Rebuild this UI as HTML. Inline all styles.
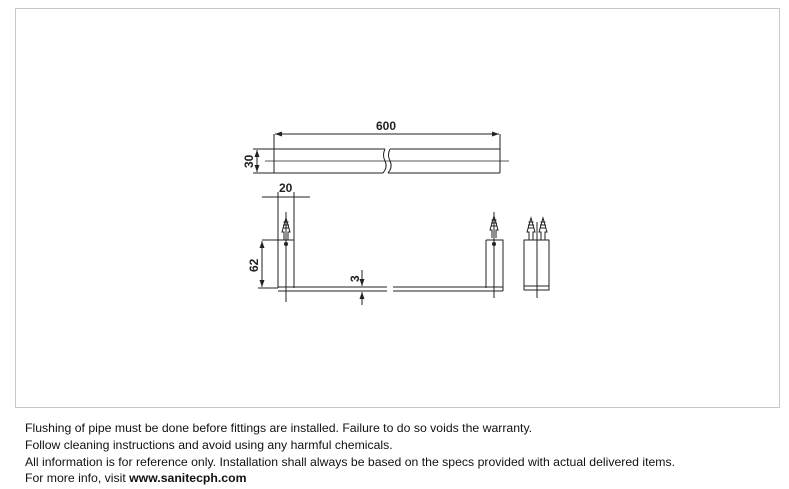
<!DOCTYPE html>
<html><head><style>
body{margin:0;background:#fff;width:789px;height:489px;overflow:hidden;font-family:"Liberation Sans",sans-serif}
.box{position:absolute;left:15px;top:8px;width:763px;height:398px;border:1px solid #c8c8c8}
.t{position:absolute;left:25px;font-size:12.25px;color:#111;line-height:16px;white-space:nowrap}
</style></head><body>
<div class="box"></div>
<svg width="789" height="489" style="position:absolute;left:0;top:0" font-family="Liberation Sans, sans-serif">
<defs>
<marker id="a" markerWidth="7" markerHeight="5" refX="7" refY="2.5" orient="auto-start-reverse" markerUnits="userSpaceOnUse"><path d="M0,0L7,2.5L0,5z" fill="#222"/></marker>
<g id="anc" stroke="#222" stroke-width="1" fill="none">
<path d="M-2,0 L-2,-8 L-4,-8 L0,-22 L4,-8 L2,-8 L2,0"/>
<path d="M-3,-12h6M-3,-15h6M-2.5,-18h5"/>
</g>
</defs>
<g stroke="#222" stroke-width="1" fill="none">
<path d="M274,149H385M390,149H500M274,173H383M388,173H500M274,134V173M500,134V173"/>
<path d="M385,149q-3,6 0,12q3,6 -2,12M390,149q-3,6 0,12q3,6 -2,12"/>
<path d="M265,161H509" stroke-width="0.8"/>
<path d="M275,134H499" marker-start="url(#a)" marker-end="url(#a)"/>
<path d="M253,149H274M253,173H274"/>
<path d="M257,150V172" marker-start="url(#a)" marker-end="url(#a)"/>
<path d="M262,197H310"/>
<path d="M278,192V288M294,192V288"/>
<path d="M262,240H294"/>
<path d="M286,212V302"/>
<path d="M262,241V287" marker-start="url(#a)" marker-end="url(#a)"/>
<path d="M258,288H278"/>
<path d="M278,287H387M278,291H387M393,287H503M393,291H503"/>
<path d="M486,240H503V291M486,240V288"/>
<path d="M494,212V298"/>
<path d="M362,270V286" marker-end="url(#a)"/>
<path d="M362,305V292" marker-end="url(#a)"/>
<rect x="524" y="240" width="25" height="50"/>
<path d="M524,286H549M537,222V298"/>
</g>
<use href="#anc" x="286" y="240"/>
<use href="#anc" x="494" y="238"/>
<use href="#anc" x="531" y="240"/>
<use href="#anc" x="543" y="240"/>
<circle cx="286" cy="244" r="2" fill="#222"/>
<circle cx="494" cy="244" r="2" fill="#222"/>
<g font-size="12" font-weight="bold" fill="#222">
<text x="376" y="130">600</text>
<text x="279" y="192">20</text>
<text transform="translate(253,168) rotate(-90)">30</text>
<text transform="translate(258,272) rotate(-90)">62</text>
<text transform="translate(359,282) rotate(-90)">3</text>
</g>
</svg>
<div class="t" style="top:420px">Flushing of pipe must be done before fittings are installed. Failure to do so voids the warranty.</div>
<div class="t" style="top:437px">Follow cleaning instructions and avoid using any harmful chemicals.</div>
<div class="t" style="top:454px">All information is for reference only. Installation shall always be based on the specs provided with actual delivered items.</div>
<div class="t" style="top:470px">For more info, visit <b>www.sanitecph.com</b></div>
</body></html>
